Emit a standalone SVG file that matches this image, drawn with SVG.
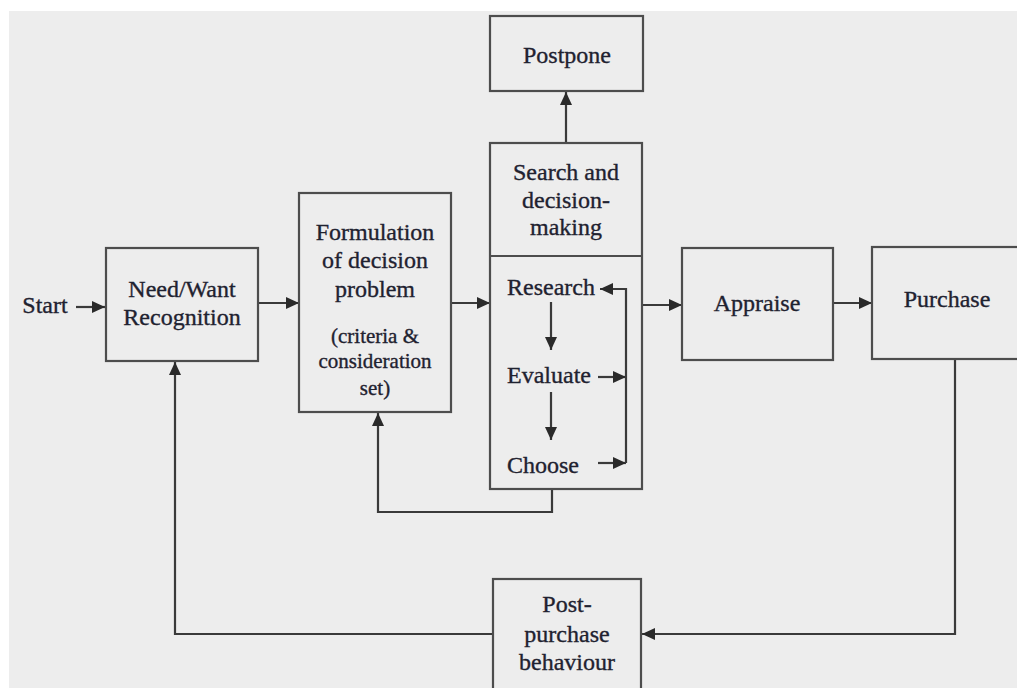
<svg xmlns="http://www.w3.org/2000/svg" width="1017" height="688" viewBox="0 0 1017 688">
  <style>
    .box { fill: #ededed; stroke: #4d4d4d; stroke-width: 2.2; }
    .div { fill: none; stroke: #4d4d4d; stroke-width: 2.2; }
    .lbl { font-family: "Liberation Serif", "Times New Roman", serif; font-size: 24px; fill: #1f2230; stroke: #1f2230; stroke-width: 0.35; text-anchor: middle; }
    .sm { font-size: 21px; }
    .st { text-anchor: start; }
    .con { fill: none; stroke: #3a3a3a; stroke-width: 2.2; }
    .arr { marker-end: url(#head); }
  </style>
  <defs>
    <marker id="head" markerUnits="userSpaceOnUse" markerWidth="14" markerHeight="12" refX="13" refY="6" orient="auto">
      <path d="M0,0 L13,6 L0,12 Z" fill="#2a2a2a"/>
    </marker>
  </defs>

  <!-- page -->
  <rect x="0" y="0" width="1017" height="688" fill="#ffffff"/>
  <rect x="9" y="11" width="1008" height="677" fill="#ededed"/>

  <!-- connectors -->
  <g id="connectors">
    <line class="con arr" x1="76" y1="307" x2="105" y2="307"/>
    <line class="con arr" x1="258" y1="303" x2="299" y2="303"/>
    <line class="con arr" x1="451" y1="303" x2="490" y2="303"/>
    <line class="con arr" x1="642" y1="305" x2="682" y2="305"/>
    <line class="con arr" x1="833" y1="303" x2="872" y2="303"/>
    <line class="con arr" x1="566" y1="142" x2="566" y2="92"/>
    <polyline class="con arr" points="552,489 552,512 378,512 378,413"/>
    <polyline class="con arr" points="955,359 955,634 642,634"/>
    <polyline class="con arr" points="493,634 175,634 175,362"/>
    <!-- inner loop of the search box -->
    <line class="con arr" x1="551" y1="302" x2="551" y2="350"/>
    <line class="con arr" x1="551" y1="392" x2="551" y2="440"/>
    <line class="con arr" x1="598" y1="377" x2="626" y2="377"/>
    <line class="con arr" x1="598" y1="463" x2="626" y2="463"/>
    <polyline class="con arr" points="626,463 626,289 600,289"/>
  </g>

  <text class="lbl" x="45" y="313">Start</text>

  <g id="need">
    <rect class="box" x="106" y="248" width="152" height="113"/>
    <text class="lbl" x="182" y="297">Need/Want</text>
    <text class="lbl" x="182" y="325">Recognition</text>
  </g>

  <g id="formulation">
    <rect class="box" x="299" y="193" width="152" height="219"/>
    <text class="lbl" x="375" y="240">Formulation</text>
    <text class="lbl" x="375" y="268">of decision</text>
    <text class="lbl" x="375" y="297">problem</text>
    <text class="lbl sm" x="375" y="343">(criteria &amp;</text>
    <text class="lbl sm" x="375" y="368">consideration</text>
    <text class="lbl sm" x="375" y="395">set)</text>
  </g>

  <g id="postpone">
    <rect class="box" x="490" y="16" width="153" height="75"/>
    <text class="lbl" x="567" y="63">Postpone</text>
  </g>

  <g id="search">
    <rect class="box" x="490" y="143" width="152" height="346" style="fill:none"/>
    <line class="div" x1="490" y1="256" x2="642" y2="256"/>
    <text class="lbl" x="566" y="180">Search and</text>
    <text class="lbl" x="566" y="208">decision-</text>
    <text class="lbl" x="566" y="235">making</text>
    <text class="lbl st" x="507" y="295">Research</text>
    <text class="lbl st" x="507" y="383">Evaluate</text>
    <text class="lbl st" x="507" y="473">Choose</text>
  </g>

  <g id="appraise">
    <rect class="box" x="682" y="248" width="151" height="112"/>
    <text class="lbl" x="757" y="311">Appraise</text>
  </g>

  <g id="purchase">
    <rect class="box" x="872" y="247" width="160" height="112"/>
    <text class="lbl" x="947" y="307">Purchase</text>
  </g>

  <g id="postpurchase">
    <rect class="box" x="493" y="579" width="148" height="120"/>
    <text class="lbl" x="567" y="612">Post-</text>
    <text class="lbl" x="567" y="642">purchase</text>
    <text class="lbl" x="567" y="670">behaviour</text>
  </g>
</svg>
